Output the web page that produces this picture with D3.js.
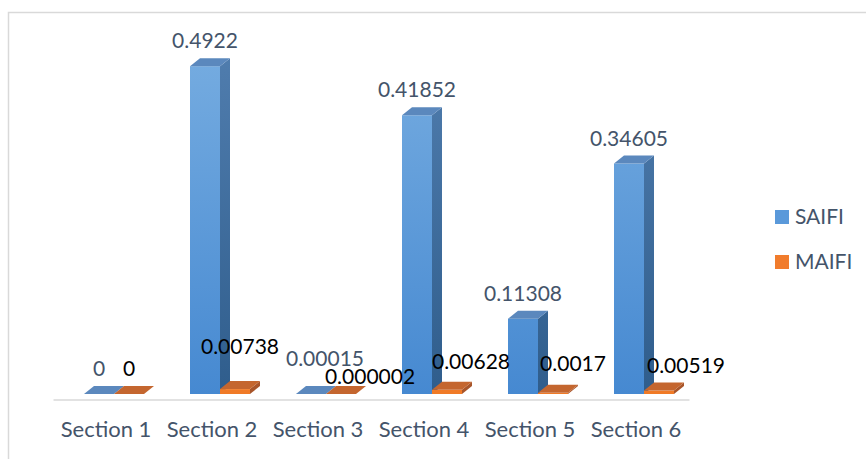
<!DOCTYPE html>
<html>
<head>
<meta charset="utf-8">
<script src="https://cdn.jsdelivr.net/npm/d3@7/dist/d3.min.js"></script>
<style>
  html, body { margin: 0; padding: 0; background: #ffffff; }
  svg { display: block; }
</style>
</head>
<body>
<svg id="chart" width="866" height="459"></svg>
<script>
// ---- data ----
const categories = ["Section 1", "Section 2", "Section 3", "Section 4", "Section 5", "Section 6"];
const seriesNames = ["SAIFI", "MAIFI"];
const saifi = [0, 0.4922, 0.00015, 0.41852, 0.11308, 0.34605];
const maifi = [0, 0.00738, 0.000002, 0.00628, 0.0017, 0.00519];
const saifiLabels = ["0", "0.4922", "0.00015", "0.41852", "0.11308", "0.34605"];
const maifiLabels = ["0", "0.00738", "0.000002", "0.00628", "0.0017", "0.00519"];

// manual label nudges (as placed in the original chart)
const saifiNudgeX = [0, 0, 14, 0, 0, 0];
const saifiNudgeY = [0, 0, -10, 0, 0, 0];
const maifiNudgeX = [0, 5, 29, 24, 20, 27];
const maifiNudgeY = [0, -17, 8, -3, -4, 0];

const svg = d3.select("#chart");

// ---- styles ----
const textColor = "#44546a";
const font = "Lato, 'Open Sans', sans-serif";
const depthX = 10, depthY = -8;

// ---- frame ----
svg.append("rect").attr("x", 8.5).attr("y", 12.5).attr("width", 880).attr("height", 470)
  .attr("fill", "#fff").attr("stroke", "#d9d9d9").attr("stroke-width", 1.5);

// ---- scales ----
const x = d3.scaleBand().domain(categories).range([53, 689]).padding(0);
const xs = d3.scaleBand().domain(seriesNames).range([31, 91]).padding(0);
const y = d3.scaleLinear().domain([0, 0.5]).range([394, 61]);

// ---- gradients ----
const defs = svg.append("defs");
function grad(id, c1, c2) {
  const g = defs.append("linearGradient").attr("id", id)
    .attr("gradientUnits", "userSpaceOnUse")
    .attr("x1", 0).attr("y1", y(0.5)).attr("x2", 0).attr("y2", y(0));
  g.append("stop").attr("offset", "0%").attr("stop-color", c1);
  g.append("stop").attr("offset", "100%").attr("stop-color", c2);
}
grad("sFront", "#74abe0", "#4689d1");
grad("sSide", "#4f7cad", "#2f5d8c");
grad("mFront", "#f7893a", "#f07a26");

const colors = {
  SAIFI: { front: "url(#sFront)", side: "url(#sSide)", top: "#5b88bd" },
  MAIFI: { front: "url(#mFront)", side: "#a8552a", top: "#c4662f" }
};

// ---- axis line ----
const axisG = svg.append("g").attr("transform", "translate(0,399.5)");
const xAxis = d3.axisBottom(x).tickSize(0).tickPadding(16);
axisG.call(xAxis);
axisG.select(".domain").attr("stroke", "#d9d9d9").attr("stroke-width", 1.6);
axisG.selectAll(".tick text")
  .attr("fill", textColor).attr("font-family", font).attr("font-size", 22)
  .attr("dy", 0).attr("y", 37.5);

// ---- bars ----
const barsG = svg.append("g");
const rows = [];
categories.forEach((c, i) => {
  rows.push({ cat: c, s: "SAIFI", v: saifi[i], i });
  rows.push({ cat: c, s: "MAIFI", v: maifi[i], i });
});

rows.forEach(d => {
  const x0 = x(d.cat) + xs(d.s);
  const x1 = x0 + xs.bandwidth();
  const yt = y(d.v), yb = y(0);
  const col = colors[d.s];
  const g = barsG.append("g");
  g.append("path")
    .attr("d", `M${x1},${yb} L${x1 + depthX},${yb + depthY} L${x1 + depthX},${yt + depthY} L${x1},${yt} Z`)
    .attr("fill", col.side);
  if (yb - yt > 0.01) {
    g.append("rect").attr("x", x0).attr("y", yt).attr("width", x1 - x0).attr("height", yb - yt)
      .attr("fill", col.front);
  }
  g.append("path")
    .attr("d", `M${x0},${yt} L${x1},${yt} L${x1 + depthX},${yt + depthY} L${x0 + depthX},${yt + depthY} Z`)
    .attr("fill", col.top);
});

// ---- data labels ----
const labG = svg.append("g").attr("text-anchor", "middle").attr("font-family", font);
categories.forEach((c, i) => {
  const xsS = x(c) + xs("SAIFI") + xs.bandwidth() / 2;
  const xsM = x(c) + xs("MAIFI") + xs.bandwidth() / 2;
  labG.append("text")
    .attr("x", xsS + saifiNudgeX[i]).attr("y", y(saifi[i]) - 18 + saifiNudgeY[i])
    .attr("fill", textColor).attr("font-size", 21)
    .text(saifiLabels[i]);
  labG.append("text")
    .attr("x", xsM + maifiNudgeX[i]).attr("y", y(maifi[i]) - 18 + maifiNudgeY[i])
    .attr("fill", "#000").attr("font-size", 21)
    .text(maifiLabels[i]);
});

// ---- legend ----
const legend = svg.append("g").attr("transform", "translate(775,210)");
const legSwatch = { SAIFI: "#5a99da", MAIFI: "#f17c2c" };
seriesNames.forEach((s, k) => {
  const g = legend.append("g").attr("transform", `translate(0,${k * 45})`);
  g.append("rect").attr("width", 14).attr("height", 14).attr("fill", legSwatch[s]);
  g.append("text").attr("x", 20).attr("y", 14).attr("fill", textColor)
    .attr("font-family", font).attr("font-size", 21).text(s);
});
</script>
</body>
</html>
